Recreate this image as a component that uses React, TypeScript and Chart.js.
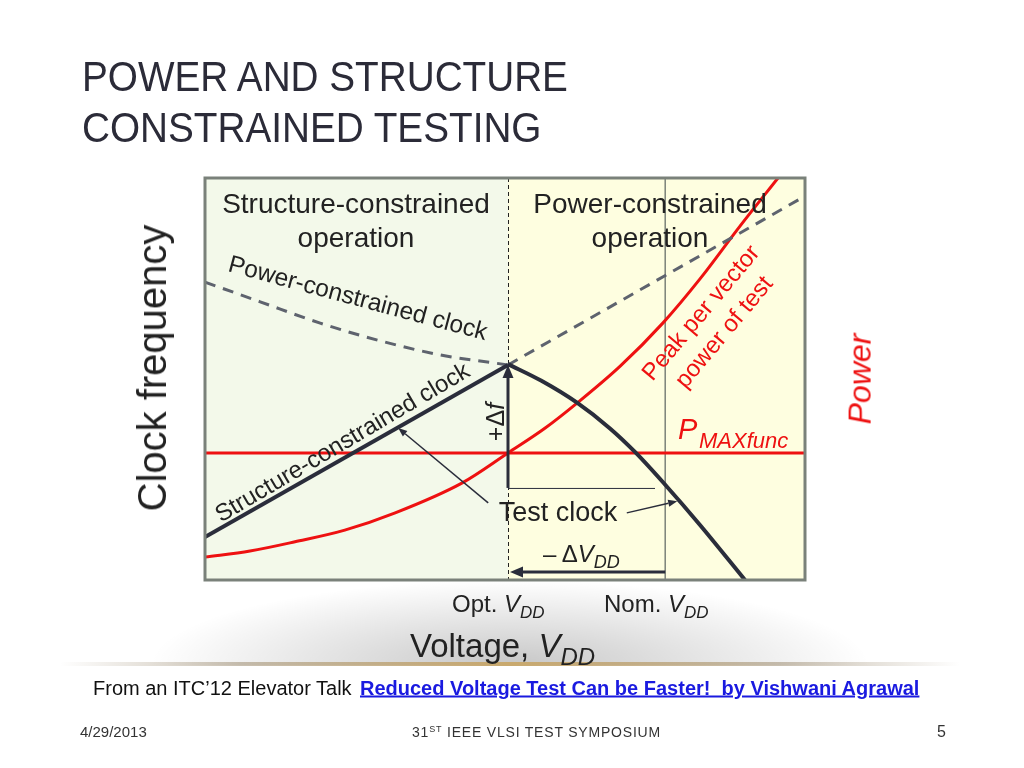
import React, { useEffect, useRef } from "react";
import { Chart, registerables } from "chart.js";

Chart.register(...registerables);

// ---- data (x: voltage 0..100, y: clock frequency / power 0..100) ----
const optVdd = 50.5;
const nomVdd = 76.7;
const pMaxFunc = 31.6;

const structClockX = [0, 50.5];
const structClockY = [10.7, 53.5];

const testClockX = [50.5, 56, 62, 67.5, 71.7, 76.7, 82.5, 90];
const testClockY = [53.7, 49.6, 44.1, 37.7, 31.8, 23.7, 13.7, 0];

const pwrClockLeftX = [0, 9.2, 19.2, 29.2, 39.2, 50.5];
const pwrClockLeftY = [74.1, 69.2, 63.9, 59.5, 56, 53.5];
const pwrClockRightX = [50.5, 100];
const pwrClockRightY = [53.5, 95.5];

const peakPowerX = [0, 7.5, 15, 23.3, 31.7, 42.8, 50.5, 56.7, 62, 69.2, 76.3, 82.5, 89.2, 95.5];
const peakPowerY = [5.7, 7.2, 9.5, 12.4, 16.7, 24.1, 31.6, 37.8, 44, 53.2, 63.9, 74.9, 88.1, 100];

const pMaxX = [0, 100];

// annotation anchors (data units)
const deltaFBase = 22.9;
const deltaFTop = 53.5;
const deltaFGuideEnd = 75;
const deltaVddY = 2;
const structPointer = [47.2, 19.2, 32.2, 37.8];
const testPointer = [70.3, 16.7, 78.7, 19.6];

const pts = (xs: number[], ys: number[]) => xs.map((x, i) => ({ x, y: ys[i] }));

const DARK = "#2a2d3b";
const RED = "#ee1111";
const GRAY = "#5e636e";

function arrow(ctx: CanvasRenderingContext2D, x1: number, y1: number, x2: number, y2: number, lw: number, hl: number, hw: number, color: string) {
  const ang = Math.atan2(y2 - y1, x2 - x1);
  const bx = x2 - Math.cos(ang) * hl;
  const by = y2 - Math.sin(ang) * hl;
  ctx.save();
  ctx.strokeStyle = color;
  ctx.fillStyle = color;
  ctx.lineWidth = lw;
  ctx.beginPath();
  ctx.moveTo(x1, y1);
  ctx.lineTo(bx, by);
  ctx.stroke();
  ctx.beginPath();
  ctx.moveTo(x2, y2);
  ctx.lineTo(bx + Math.sin(ang) * hw, by - Math.cos(ang) * hw);
  ctx.lineTo(bx - Math.sin(ang) * hw, by + Math.cos(ang) * hw);
  ctx.closePath();
  ctx.fill();
  ctx.restore();
}

const deco = {
  id: "deco",
  beforeDatasetsDraw(chart: any) {
    const { ctx, chartArea: a, scales } = chart;
    const x = scales.x;
    const xo = x.getPixelForValue(optVdd);
    const xn = x.getPixelForValue(nomVdd);
    ctx.save();
    ctx.fillStyle = "#f3f9ea";
    ctx.fillRect(a.left, a.top, xo - a.left, a.bottom - a.top);
    ctx.fillStyle = "#fefee0";
    ctx.fillRect(xo, a.top, a.right - xo, a.bottom - a.top);
    ctx.strokeStyle = "#7b8279";
    ctx.lineWidth = 1.5;
    ctx.beginPath();
    ctx.moveTo(xn, a.top);
    ctx.lineTo(xn, a.bottom);
    ctx.stroke();
    ctx.strokeStyle = "#222";
    ctx.lineWidth = 1;
    ctx.setLineDash([4, 3]);
    ctx.beginPath();
    ctx.moveTo(xo + 0.5, a.top);
    ctx.lineTo(xo + 0.5, a.bottom);
    ctx.stroke();
    ctx.restore();
  },
  afterDatasetsDraw(chart: any) {
    const { ctx, chartArea: a, scales } = chart;
    const x = scales.x, y = scales.y;
    const X = (v: number) => x.getPixelForValue(v);
    const Y = (v: number) => y.getPixelForValue(v);
    ctx.save();
    ctx.strokeStyle = DARK;
    ctx.lineWidth = 1;
    ctx.beginPath();
    ctx.moveTo(X(optVdd), Y(deltaFBase) + 0.5);
    ctx.lineTo(X(deltaFGuideEnd), Y(deltaFBase) + 0.5);
    ctx.stroke();
    ctx.restore();
    arrow(ctx, X(optVdd), Y(deltaFBase), X(optVdd), Y(deltaFTop), 3, 13, 5.5, DARK);
    arrow(ctx, X(nomVdd), Y(deltaVddY), X(optVdd) + 2, Y(deltaVddY), 3, 13, 5.5, DARK);
    arrow(ctx, X(structPointer[0]), Y(structPointer[1]), X(structPointer[2]), Y(structPointer[3]), 1.5, 9, 3.5, DARK);
    arrow(ctx, X(testPointer[0]), Y(testPointer[1]), X(testPointer[2]), Y(testPointer[3]), 1.5, 9, 3.5, DARK);
    ctx.save();
    ctx.strokeStyle = "#7a817a";
    ctx.lineWidth = 3;
    ctx.strokeRect(a.left, a.top, a.right - a.left, a.bottom - a.top);
    ctx.restore();
  },
};

type TP = {
  x: number; y: number; size: number; color?: string; rot?: number; italic?: boolean;
  anchor?: "left" | "center"; children: React.ReactNode; weight?: number; lh?: string; sx?: number; style?: React.CSSProperties;
};
function T({ x, y, size, color = "#222", rot = 0, italic, anchor = "center", children, weight, lh = "1.15", sx = 1, style }: TP) {
  const tx = anchor === "center" ? "-50%" : "0";
  return (
    <div
      style={{
        position: "absolute",
        left: x,
        top: y,
        fontSize: size,
        color,
        fontStyle: italic ? "italic" : "normal",
        fontWeight: weight || 400,
        lineHeight: lh,
        whiteSpace: "nowrap",
        textAlign: "center",
        transformOrigin: anchor === "center" ? "50% 50%" : "0 50%",
        transform: `translate(${tx},-50%) rotate(${rot}deg) scaleX(${sx})`,
        ...style,
      }}
    >
      {children}
    </div>
  );
}

const Sub = ({ children, size }: { children: React.ReactNode; size: number }) => (
  <span style={{ fontSize: size, fontStyle: "italic", position: "relative", top: "0.35em" }}>{children}</span>
);

export default function App() {
  const ref = useRef<HTMLCanvasElement>(null);
  useEffect(() => {
    if (!ref.current) return;
    const line = (label: string, data: any, color: string, width: number, extra: any = {}) => ({
      label, data, borderColor: color, borderWidth: width, pointRadius: 0, showLine: true, fill: false, ...extra,
    });
    const chart = new Chart(ref.current, {
      type: "scatter",
      data: {
        datasets: [
          line("Structure-constrained clock", pts(structClockX, structClockY), DARK, 4),
          line("Test clock", pts(testClockX, testClockY), DARK, 4, { cubicInterpolationMode: "monotone" }),
          line("Power-constrained clock (low V)", pts(pwrClockLeftX, pwrClockLeftY), GRAY, 3, { borderDash: [11, 8], cubicInterpolationMode: "monotone" }),
          line("Power-constrained clock (high V)", pts(pwrClockRightX, pwrClockRightY), GRAY, 3, { borderDash: [11, 8] }),
          line("Peak per vector power of test", pts(peakPowerX, peakPowerY), RED, 3, { cubicInterpolationMode: "monotone" }),
          line("PMAXfunc", pts(pMaxX, [pMaxFunc, pMaxFunc]), RED, 3),
        ],
      },
      options: {
        responsive: false,
        animation: false,
        layout: { padding: { left: 205, right: 219, top: 178, bottom: 188 } },
        scales: {
          x: { type: "linear", min: 0, max: 100, display: false },
          y: { type: "linear", min: 0, max: 100, display: false },
        },
        plugins: { legend: { display: false }, tooltip: { enabled: false } },
      },
      plugins: [deco],
    });
    return () => chart.destroy();
  }, []);

  return (
    <div
      style={{
        position: "absolute", left: 0, top: 0, width: 1024, height: 768, background: "#fff", overflow: "hidden",
        fontFamily: '"Liberation Sans", Arial, Helvetica, sans-serif',
      }}
    >
      <div
        style={{
          position: "absolute", left: 150, top: 580, width: 720, height: 85,
          background: "radial-gradient(ellipse 50% 100% at 50% 100%, rgba(0,0,0,0.22), rgba(0,0,0,0))",
        }}
      />
      <div
        style={{
          position: "absolute", left: 60, top: 662, width: 900, height: 4,
          background: "linear-gradient(to right, rgba(150,150,150,0), rgba(165,150,125,0.6) 20%, #c9a96e 50%, rgba(165,150,125,0.6) 80%, rgba(150,150,150,0))",
        }}
      />
      <canvas ref={ref} width={1024} height={768} style={{ position: "absolute", left: 0, top: 0, width: 1024, height: 768 }} />

      {/* title */}
      <T x={82} y={77} size={43} anchor="left" color="#2b2b38" sx={0.9}>POWER AND STRUCTURE</T>
      <T x={82} y={128} size={43} anchor="left" color="#2b2b38" sx={0.9}>CONSTRAINED TESTING</T>

      {/* region labels */}
      <T x={356} y={221} size={28} lh="34px">Structure-constrained<br />operation</T>
      <T x={650} y={221} size={28} lh="34px">Power-constrained<br />operation</T>

      {/* curve labels */}
      <T x={358} y={298} size={24.5} rot={15}>Power-constrained clock</T>
      <T x={342} y={442} size={24} rot={-30.5}>Structure-constrained clock</T>
      <T x={712} y={322} size={24} rot={-50} color={RED} lh="30px">Peak per vector<br />power of test</T>
      <T x={495} y={422} size={25} rot={-90}>+Δ<i>f</i></T>
      <T x={678} y={430} size={29} anchor="left" color={RED} italic>P</T>
      <T x={699} y={441} size={22} anchor="left" color={RED} italic>MAXfunc</T>
      <T x={558} y={513} size={27}>Test clock</T>
      <T x={543} y={554} size={24} anchor="left">– Δ<i>V</i><Sub size={18}>DD</Sub></T>

      {/* axes labels */}
      <T x={152} y={368} size={40} rot={-90}>Clock frequency</T>
      <T x={860} y={379} size={32} rot={-90} color={RED} italic>Power</T>
      <T x={452} y={604} size={24} anchor="left">Opt. <i>V</i><Sub size={17}>DD</Sub></T>
      <T x={604} y={604} size={24} anchor="left">Nom. <i>V</i><Sub size={17}>DD</Sub></T>
      <T x={410} y={646} size={33} anchor="left">Voltage, <i>V</i><Sub size={24}>DD</Sub></T>

      {/* source */}
      <T x={93} y={688} size={20} anchor="left" color="#111">From an ITC’12 Elevator Talk</T>
      <T x={360} y={688} size={20} anchor="left" color="#1a1ae0" weight={700} style={{ textDecoration: "underline" }}>
        Reduced Voltage Test Can be Faster!&nbsp; by Vishwani Agrawal
      </T>

      {/* footer */}
      <T x={80} y={732} size={15} anchor="left" color="#333">4/29/2013</T>
      <T x={412} y={732} size={14} anchor="left" color="#333" style={{ letterSpacing: 0.8 }}>
        31<sup style={{ fontSize: 9 }}>ST</sup> IEEE VLSI TEST SYMPOSIUM
      </T>
      <T x={937} y={732} size={16} anchor="left" color="#333">5</T>
    </div>
  );
}
